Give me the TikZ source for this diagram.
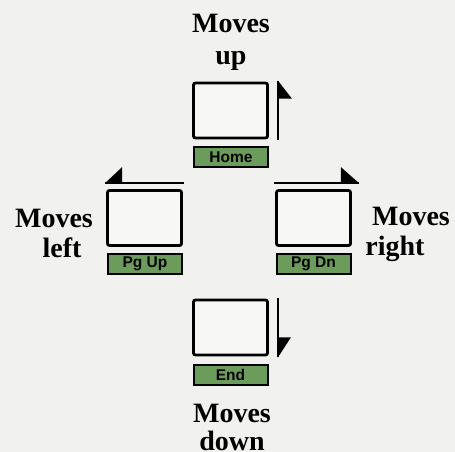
\documentclass[tikz,border=0pt]{standalone}
\usepackage{fontspec}
\setmainfont{Liberation Serif}
\newfontfamily\keyfont{Liberation Sans}
\definecolor{pagebg}{RGB}{241,241,239}
\definecolor{screenfill}{RGB}{247,247,246}
\definecolor{keygreen}{RGB}{108,156,92}
\begin{document}
\begin{tikzpicture}[x=1pt,y=-1pt,
  screen/.style={draw=black, line width=2.8pt, rounded corners=2pt, fill=screenfill,
    minimum width=74pt, minimum height=55pt, inner sep=0pt},
  keycap/.style={draw=black, line width=2pt, fill=keygreen, minimum width=74pt,
    minimum height=20pt, inner sep=0pt, text=black,
    font=\keyfont\bfseries\fontsize{15.5}{15.5}\selectfont},
  caption/.style={font=\bfseries\fontsize{28}{32}\selectfont, inner sep=0pt, anchor=base},
  guide/.style={line width=2.4pt},
  flag/.style={fill=black}]
\fill[pagebg] (0,0) rectangle (455,452);
\useasboundingbox (0,0) rectangle (455,452);

% screens
\node[screen] (upbox) at (230.5,110.5) {};
\node[screen] (leftbox) at (144.5,218) {};
\node[screen] (rightbox) at (313.5,218) {};
\node[screen] (downbox) at (230.5,327.5) {};

% keys
\node[keycap] (home) at (231,157) {Home};
\node[keycap] (pgup) at (145,263.5) {Pg Up};
\node[keycap] (pgdn) at (313.5,263.5) {Pg Dn};
\node[keycap] (endkey) at (230.5,374.5) {End};

% up arrow
\coordinate (ub) at ([xshift=9pt,yshift=-1pt]upbox.south east);
\coordinate (ut) at ([xshift=9pt,yshift=1pt]upbox.north east);
\draw[guide] (ub) -- (ut);
\fill[flag] (ut) -- ++(14,18) -- ++(-14,0) -- cycle;

% down arrow
\coordinate (dt) at ([xshift=9pt,yshift=1pt]downbox.north east);
\coordinate (db) at ([xshift=9pt,yshift=-1pt]downbox.south east);
\draw[guide] (dt) -- (db);
\fill[flag] (db) -- ++(13,-20) -- ++(-13,0) -- cycle;

% left arrow
\coordinate (lr) at ([xshift=1pt,yshift=6pt]leftbox.north east);
\coordinate (ll) at ([xshift=-1pt,yshift=6pt]leftbox.north west);
\draw[guide] (lr) -- (ll);
\fill[flag] (ll) -- ++(17,-16) -- ++(0,16) -- cycle;

% right arrow
\coordinate (rl) at ([xshift=-1pt,yshift=6pt]rightbox.north west);
\coordinate (rr) at ([xshift=7pt,yshift=6pt]rightbox.north east);
\draw[guide] (rl) -- (rr);
\fill[flag] (rr) -- ++(-18,-16) -- ++(0,16) -- cycle;

% captions
\node[caption] (upa) at (231,33) {Moves};
\node[caption] (upb) at (231,65) {up};
\node[caption] (lefta) at (54,227) {Moves};
\node[caption] (leftb) at (62,257) {left};
\node[caption] (righta) at (411,225) {Moves};
\node[caption] (rightb) at (395,255) {right};
\node[caption] (downa) at (232,422) {Moves};
\node[caption] (downb) at (232,450.5) {down};
\end{tikzpicture}
\end{document}
